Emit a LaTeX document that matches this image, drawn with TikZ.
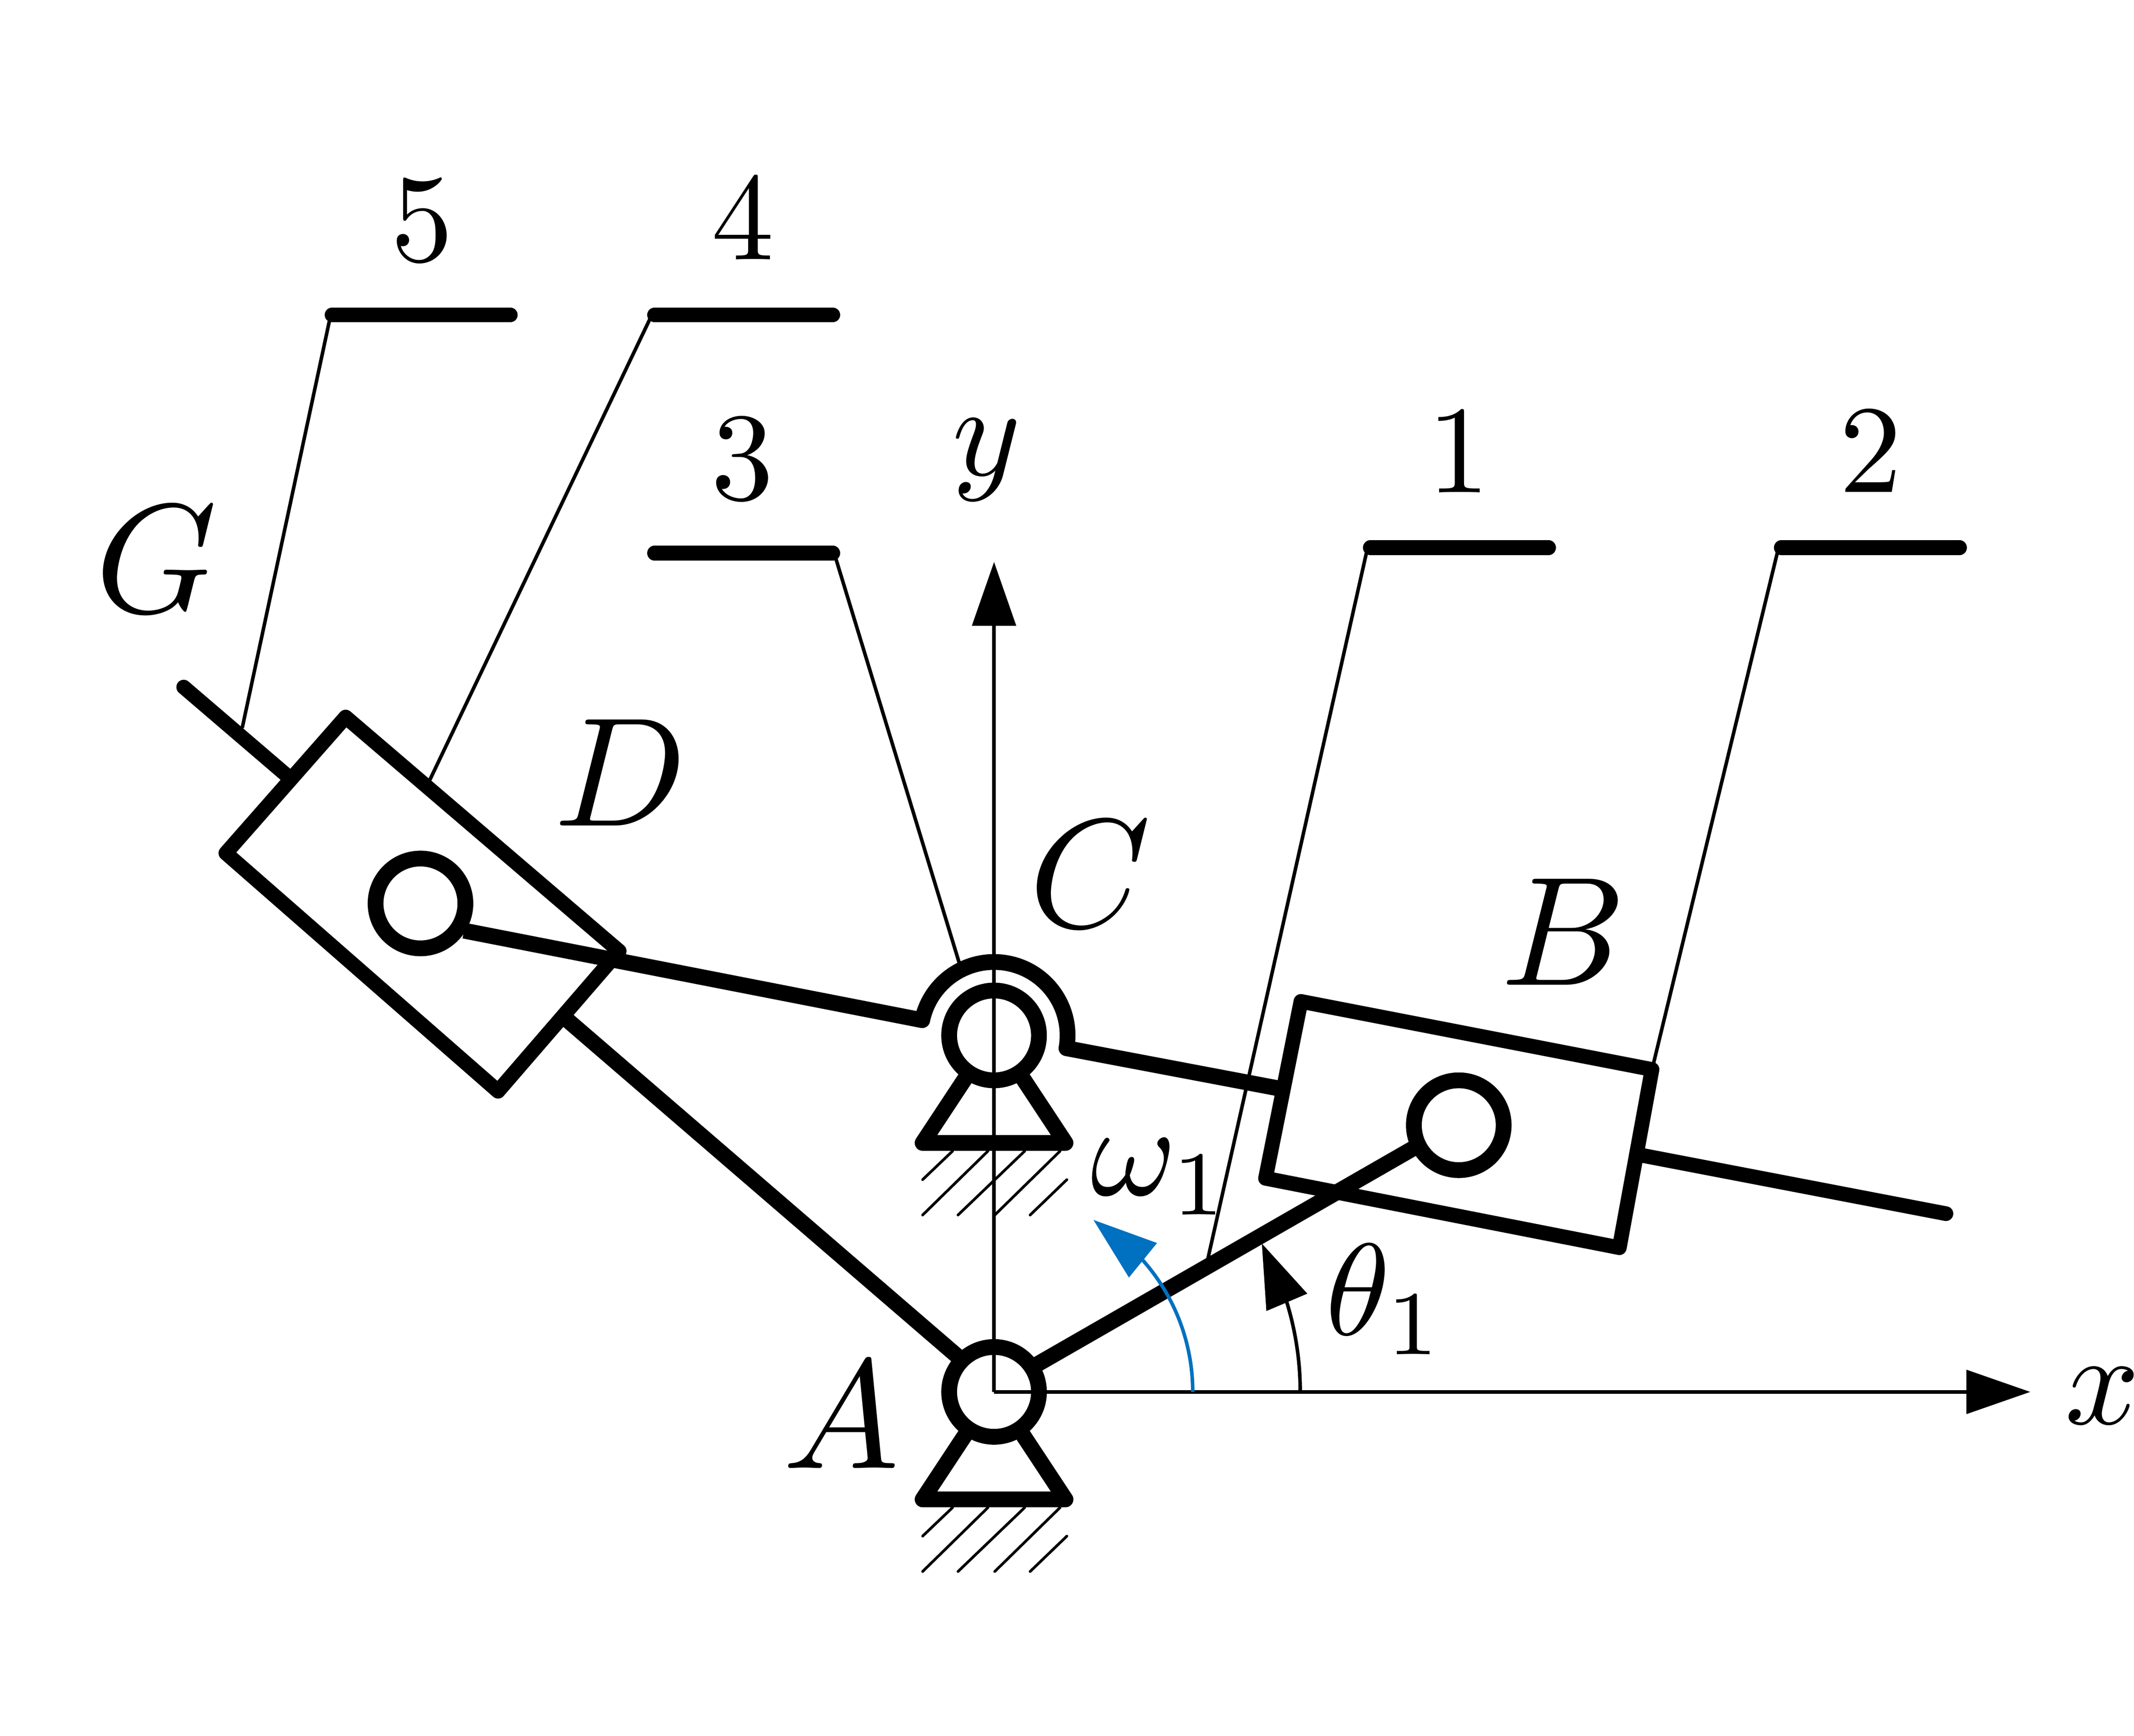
\documentclass[tikz,border=0pt]{standalone}
\usepackage{graphicx}
\usetikzlibrary{arrows.meta,bending}
\definecolor{arcblue}{RGB}{0,112,192}
\newcommand{\digitlab}[1]{\scalebox{2.3}{$#1$}}
\newcommand{\numlab}[1]{\scalebox{2.4}{$#1$}}
\newcommand{\ptlab}[1]{\scalebox{2.85}{$#1$}}
\tikzset{
	bar/.style={line width=2.7pt,line cap=round,line join=round},
	rod/.style={line width=2.9pt,line join=round},
	thin line/.style={line width=0.65pt},
	hatch/.style={line width=0.5pt,line cap=round},
	joint/.style={circle,draw,line width=2.9pt,minimum size=16.5pt,inner sep=0pt,outer sep=0pt},
	lab/.style={inner sep=0pt},
	axis tip/.style={-{Triangle[length=11.75pt,width=8pt]}}
}
\begin{document}
\begin{tikzpicture}[x=0.25pt,y=0.25pt,yscale=-1]
	\useasboundingbox (0,0) rectangle (1568.2,1275.6);

	% Joints
	\node (jointA) [joint] at (730.5,1023) {};
	\node (jointC) [joint] at (730.5,761) {};
	\node (jointB) [joint] at (1072,827) {};
	\node (jointD) [joint] at (309,664) {};

	% Axes
	\draw [thin line,axis tip] (730.5,1023) -- (730.5,413);
	\draw [thin line,axis tip] (730.5,1023) -- (1492,1023);

	% Slider B
	\draw [bar] (956,736) -- (1214,786) -- (1190,917) -- (930,866) -- cycle;
	% Slider D
	\draw [bar] (254,527) -- (455,699) -- (366,802) -- (166,627) -- cycle;

	% Rods
	\draw [rod] (341,684) -- (677.7,749.8) arc [start angle=-168,end angle=10,radius=54] -- (940,800);
	\draw [bar] (1206,849) -- (1430,892);
	\draw [bar] (135,505) -- (212,571);
	\draw [rod] (415,748) -- (705,998);
	\draw [rod] (760,1004) -- (1042,842);

	% Support A
	\draw [rod] (711,1052) -- (678,1102) -- (783,1102) -- (750,1052);
	\draw [hatch] (700,1108) -- (678,1129);
	\draw [hatch] (726,1108) -- (678,1155);
	\draw [hatch] (753,1108) -- (704,1155);
	\draw [hatch] (779,1108) -- (731,1155);
	\draw [hatch] (784,1129) -- (757,1155);
	% Support C
	\draw [rod] (711,790) -- (678,840) -- (783,840) -- (750,790);
	\draw [hatch] (700,846) -- (678,867);
	\draw [hatch] (726,846) -- (678,893);
	\draw [hatch] (753,846) -- (704,893);
	\draw [hatch] (779,846) -- (731,893);
	\draw [hatch] (784,867) -- (757,893);

	% Angle arcs
	\draw [thin line,arcblue,axis tip] (876.5,1023) arc [start angle=0,end angle=-60,radius=146];
	\draw [thin line,axis tip] (955.5,1023) arc [start angle=0,end angle=-29,radius=225];

	% Part number bars and leaders
	\draw [bar] (244,231.5) -- (375,231.5);
	\draw [thin line] (243,231.5) -- (178,535);
	\draw [bar] (481,231.5) -- (612,231.5);
	\draw [thin line] (479,231.5) -- (315,575);
	\draw [bar] (481,406.5) -- (612,406.5);
	\draw [thin line] (613,406.5) -- (705,708);
	\draw [bar] (1007,402.5) -- (1138,402.5);
	\draw [thin line] (1005,402.5) -- (887,928);
	\draw [bar] (1309,402.5) -- (1440,402.5);
	\draw [thin line] (1307,402.5) -- (1215,782);

	% Text Node
	\node (num5) [lab] at (310,162) {\digitlab{5}};
	\node (num4) [lab] at (546,161) {\digitlab{4}};
	\node (num3) [lab] at (545.5,337.5) {\digitlab{3}};
	\node (num1) [lab] at (1072,332.5) {\digitlab{1}};
	\node (num2) [lab] at (1374.5,332) {\digitlab{2}};
	\node (laby) [lab] at (725,338) {\numlab{y}};
	\node (labx) [lab] at (1545,1026) {\numlab{x}};
	\node (labw) [lab] at (853,865) {\numlab{\omega_1}};
	\node (labt) [lab] at (1018,955) {\numlab{\theta_1}};
	\node (labG) [lab] at (115,411) {\ptlab{G}};
	\node (labD) [lab] at (456,568) {\ptlab{D}};
	\node (labC) [lab] at (801,642.5) {\ptlab{C}};
	\node (labB) [lab] at (1149,685) {\ptlab{B}};
	\node (labA) [lab] at (618,1040) {\ptlab{A}};
\end{tikzpicture}
\end{document}
